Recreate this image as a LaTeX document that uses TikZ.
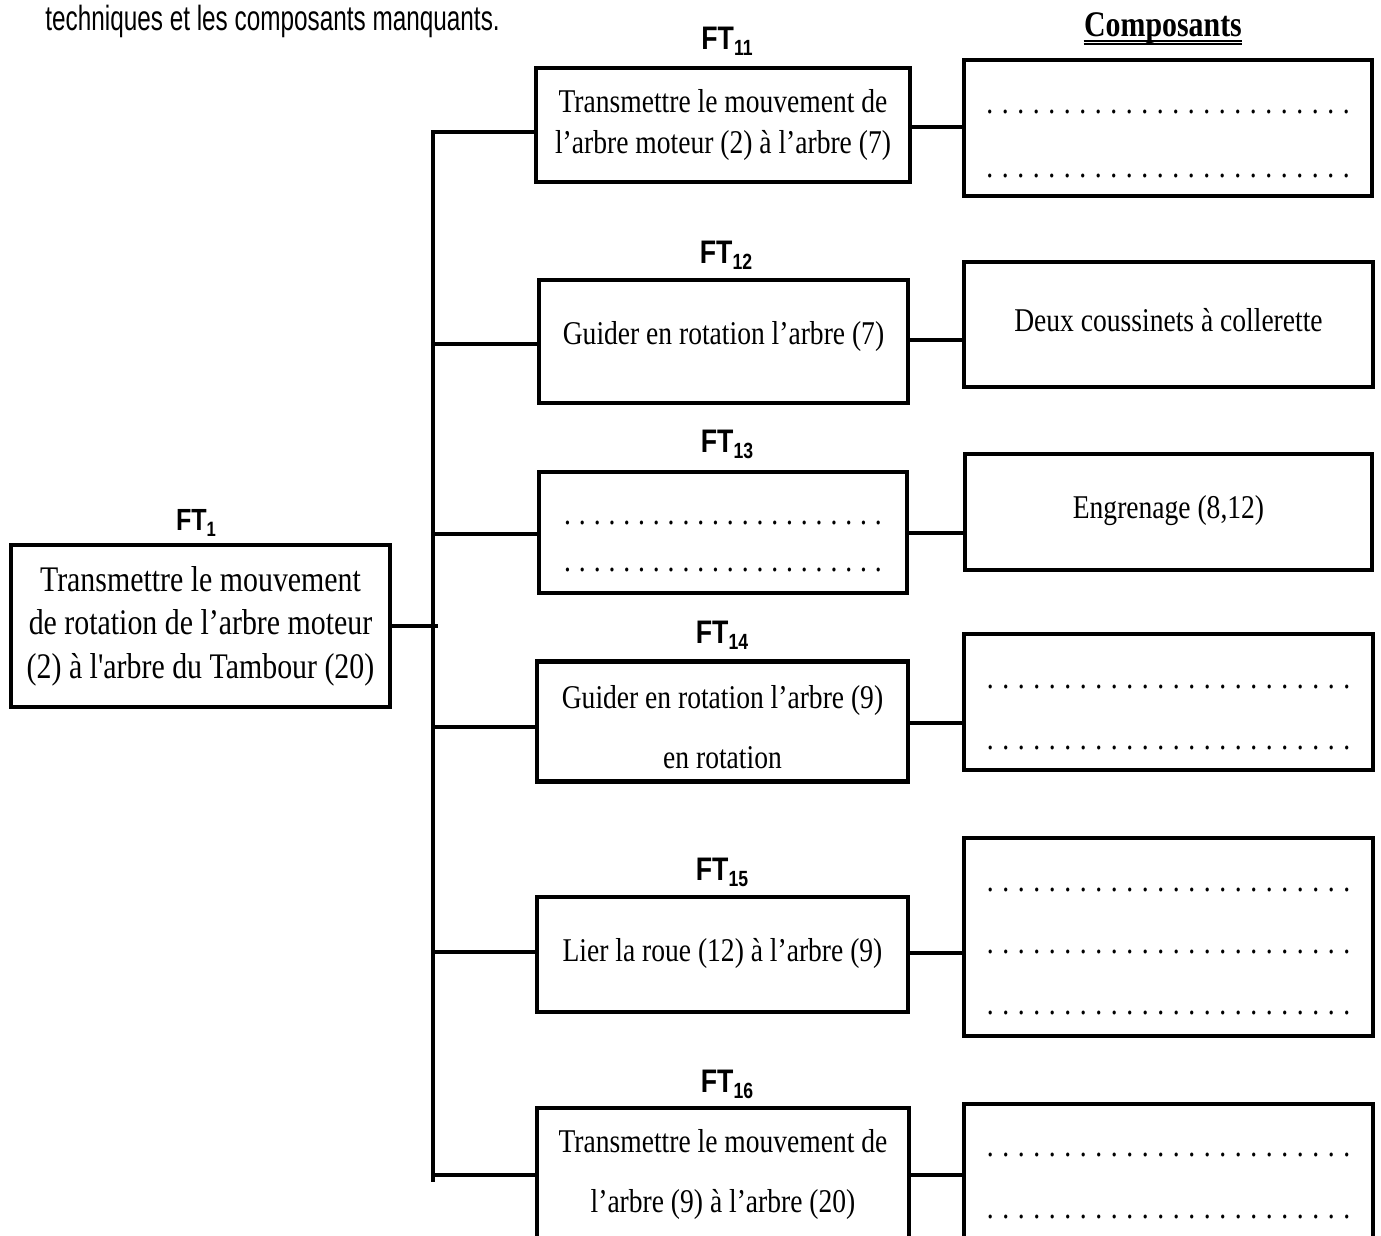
\documentclass[tikz,border=0pt]{standalone}
\usepackage{fontspec}
\newfontfamily\ser[FakeStretch=0.83]{Liberation Serif}
\newfontfamily\sanb[FakeStretch=0.82]{Liberation Sans}
\newfontfamily\subf[FakeStretch=0.8]{Liberation Sans}
\newfontfamily\topf[FakeStretch=0.695]{Liberation Sans}
\newcommand\ftlab[4]{{\sanb\bfseries\fontsize{#1}{#1}\selectfont FT}\raisebox{-#3}{\subf\bfseries\fontsize{#2}{#2}\selectfont #4}}
\newcommand\dotrow[2]{\strut\count255=0\loop\makebox[#2]{.}\advance\count255 by 1\relax\ifnum\count255<#1\repeat}
\newcommand\mv[2]{\raisebox{#1}[\height][\depth]{#2}}
\tikzset{
  box/.style={draw, line width=2.2pt, inner sep=0pt, align=center},
  txt/.style={font=\ser\fontsize{16.6pt}{#1}\selectfont},
  txtA/.style={font=\ser\fontsize{18pt}{#1}\selectfont},
  link/.style={line width=2.2pt, line cap=rect},
  ftl/.style={inner sep=0pt, anchor=base},
}
\begin{document}
\begin{tikzpicture}[x=0.5pt,y=-0.5pt]
\useasboundingbox (0,0) rectangle (1381,1236);
\clip (0,0) rectangle (1381,1236);

% header texts
\node[inner sep=0pt, anchor=base west, font=\topf\fontsize{17.5pt}{20pt}\selectfont] (intro) at (45,31) {techniques et les composants manquants.};
\node[inner sep=0pt, anchor=base, font=\ser\bfseries\fontsize{18pt}{20pt}\selectfont] (comp) at (1163,36.7) {Composants};
\draw[line width=0.85pt] ([yshift=-2pt]comp.base west) -- ([yshift=-2pt]comp.base east);
\draw[line width=0.85pt] ([yshift=-3.65pt]comp.base west) -- ([yshift=-3.65pt]comp.base east);

% main function
\node[box, minimum width=189.5pt, minimum height=81pt, txtA=21.75pt] (ft1) at (200.5,626)
  {\strut Transmettre le mouvement\\\strut de rotation de l’arbre moteur\\\strut (2) à l'arbre du Tambour (20)};
\node[ftl] (l1) at (196,530) {\ftlab{15.3pt}{10.4pt}{3.1pt}{1}};

% sub functions
\node[box, minimum width=187pt, minimum height=57pt, txt=20.5pt] (ft11) at (723,125)
  {\strut Transmettre le mouvement de\\\strut l’arbre moteur (2) à l’arbre (7)};
\node[ftl] (l11) at (727,49.3) {\ftlab{16.3pt}{11pt}{3.3pt}{11}};

\node[box, minimum width=184.5pt, minimum height=61.5pt, txt=20pt] (ft12) at (723.5,341.5)
  {\mv{2.5pt}{Guider en rotation l’arbre (7)}};
\node[ftl] (l12) at (726,263) {\ftlab{16.3pt}{11pt}{3.3pt}{12}};

\node[box, minimum width=184pt, minimum height=60.5pt, txt=23.5pt] (ft13) at (723,532.5)
  {\mv{-3pt}{\dotrow{22}{7.4pt}}\\\mv{-3pt}{\dotrow{22}{7.4pt}}};
\node[ftl] (l13) at (727,452) {\ftlab{16.3pt}{11pt}{3.3pt}{13}};

\node[box, minimum width=185.5pt, minimum height=57.5pt, txt=30pt] (ft14) at (722.5,721.5)
  {\mv{-2.5pt}{\strut Guider en rotation l’arbre (9)}\\\mv{-2.5pt}{\strut en rotation}};
\node[ftl] (l14) at (722,643) {\ftlab{16.3pt}{11pt}{3.3pt}{14}};

\node[box, minimum width=185.5pt, minimum height=57.5pt, txt=20pt] (ft15) at (722.5,954.5)
  {\mv{0.5pt}{Lier la roue (12) à l’arbre (9)}};
\node[ftl] (l15) at (722,880) {\ftlab{16.3pt}{11pt}{3.3pt}{15}};

\node[box, minimum width=186pt, minimum height=67pt, txt=30pt] (ft16) at (723,1175)
  {\mv{2.5pt}{\strut Transmettre le mouvement de}\\\mv{2.5pt}{\strut l’arbre (9) à l’arbre (20)}};
\node[ftl] (l16) at (727,1092) {\ftlab{16.3pt}{11pt}{3.3pt}{16}};

% components
\node[box, minimum width=204pt, minimum height=68pt, txt=32pt] (c1) at (1168,128)
  {\mv{-2.5pt}{\dotrow{24}{7.75pt}}\\\mv{-2.5pt}{\dotrow{24}{7.75pt}}};
\node[box, minimum width=204.5pt, minimum height=62.5pt, txt=20pt] (c2) at (1168.5,324.5)
  {\mv{2pt}{Deux coussinets à collerette}};
\node[box, minimum width=203.5pt, minimum height=58pt, txt=20pt] (c3) at (1168.5,512)
  {\mv{0.5pt}{Engrenage (8,12)}};
\node[box, minimum width=204.5pt, minimum height=68pt, txt=30.5pt] (c4) at (1168.5,702)
  {\mv{-2.5pt}{\dotrow{24}{7.75pt}}\\\mv{-2.5pt}{\dotrow{24}{7.75pt}}};
\node[box, minimum width=204.5pt, minimum height=99pt, txt=30.75pt] (c5) at (1168.5,937)
  {\mv{-2pt}{\dotrow{24}{7.75pt}}\\\mv{-2pt}{\dotrow{24}{7.75pt}}\\\mv{-2pt}{\dotrow{24}{7.75pt}}};
\node[box, minimum width=204.5pt, minimum height=69pt, txt=31pt] (c6) at (1168.5,1173)
  {\mv{-1pt}{\dotrow{24}{7.75pt}}\\\mv{-1pt}{\dotrow{24}{7.75pt}}};

% bus
\coordinate (bt) at (433,132);
\coordinate (bb) at (433,1180);
\draw[link] (bt) -- (bb);
\coordinate (j0) at (436,626);
\draw[link] (ft1.east) -- (j0);

\coordinate (j1) at (433,132);
\coordinate (j2) at (433,344);
\coordinate (j3) at (433,534);
\coordinate (j4) at (433,727);
\coordinate (j5) at (433,952);
\coordinate (j6) at (433,1175);
\draw[link] (j1) -- (j1 -| ft11.west);
\draw[link] (j2) -- (j2 -| ft12.west);
\draw[link] (j3) -- (j3 -| ft13.west);
\draw[link] (j4) -- (j4 -| ft14.west);
\draw[link] (j5) -- (j5 -| ft15.west);
\draw[link] (j6) -- (j6 -| ft16.west);

\coordinate (k1) at (937,127);
\coordinate (k2) at (937,340);
\coordinate (k3) at (937,533);
\coordinate (k4) at (937,723);
\coordinate (k5) at (937,953);
\coordinate (k6) at (937,1175);
\draw[link] (k1 -| ft11.east) -- (k1 -| c1.west);
\draw[link] (k2 -| ft12.east) -- (k2 -| c2.west);
\draw[link] (k3 -| ft13.east) -- (k3 -| c3.west);
\draw[link] (k4 -| ft14.east) -- (k4 -| c4.west);
\draw[link] (k5 -| ft15.east) -- (k5 -| c5.west);
\draw[link] (k6 -| ft16.east) -- (k6 -| c6.west);
\end{tikzpicture}
\end{document}
